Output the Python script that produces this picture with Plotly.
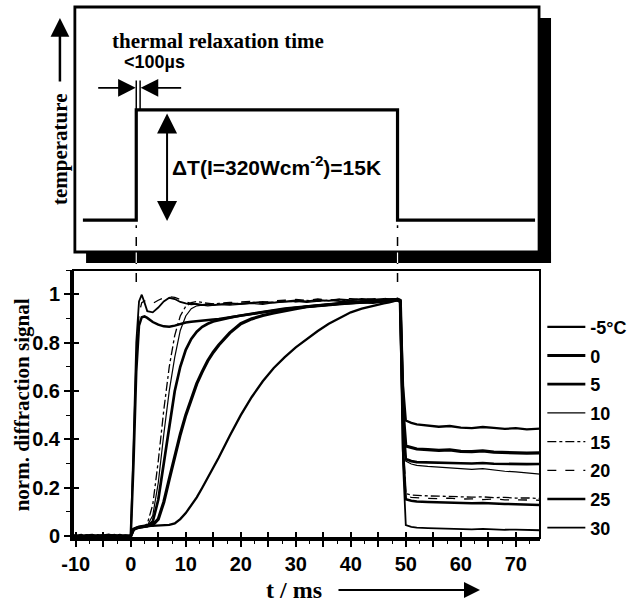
import plotly.graph_objects as go

# ---------------- data ----------------
t_ms = [-10.5, -9, -8, -7, -6, -5, -4, -3, -2, -1,
        0, 0.5, 1, 1.5, 2, 2.5, 3,
        4, 5, 6, 7, 8, 9, 10, 11, 12, 13, 14, 15, 16,
        18, 20, 22, 24, 26, 28, 30, 32, 34, 36, 38, 40, 42, 44, 46,
        47, 48, 48.5, 49, 49.5,
        50, 51, 52,
        54, 56, 58, 60, 62, 64, 66, 68, 70, 72,
        74.5]

sig_m5 = [0.002, -0.004, 0.003, -0.005, 0.001, 0.004, -0.003, 0.002, -0.002, 0.000,
          0.000, 0.025, 0.033, 0.037, 0.040, 0.040, 0.041,
          0.043, 0.044, 0.044, 0.046, 0.052, 0.070, 0.095, 0.125, 0.160, 0.200, 0.240, 0.285, 0.325,
          0.415, 0.500, 0.575, 0.640, 0.695, 0.740, 0.780, 0.815, 0.848, 0.878, 0.902, 0.925, 0.940, 0.952, 0.962,
          0.966, 0.972, 0.975, 0.968, 0.620,
          0.478, 0.468, 0.462,
          0.458, 0.452, 0.455, 0.448, 0.446, 0.451, 0.447, 0.443, 0.446, 0.441,
          0.444]

sig_0 = [-0.002, 0.003, -0.004, 0.002, -0.003, 0.001, 0.004, -0.002, 0.003, -0.001,
         0.000, 0.028, 0.034, 0.037, 0.039, 0.040, 0.041,
         0.046, 0.070, 0.140, 0.235, 0.330, 0.420, 0.500, 0.570, 0.630, 0.680, 0.725, 0.760, 0.790,
         0.840, 0.878, 0.898, 0.912, 0.922, 0.932, 0.940, 0.948, 0.952, 0.958, 0.962, 0.964, 0.968, 0.966, 0.972,
         0.974, 0.976, 0.978, 0.972, 0.520,
         0.372, 0.365, 0.360,
         0.357, 0.354, 0.356, 0.350, 0.349, 0.352, 0.347, 0.345, 0.346, 0.343,
         0.344]

sig_5 = [0.001, -0.003, 0.002, 0.004, -0.002, -0.004, 0.002, 0.003, -0.003, 0.002,
         0.000, 0.027, 0.033, 0.036, 0.038, 0.039, 0.041,
         0.060, 0.150, 0.300, 0.460, 0.600, 0.700, 0.770, 0.815, 0.845, 0.865, 0.878, 0.887, 0.893,
         0.903, 0.912, 0.920, 0.927, 0.933, 0.940, 0.945, 0.950, 0.955, 0.958, 0.962, 0.965, 0.967, 0.970, 0.972,
         0.975, 0.977, 0.980, 0.975, 0.480,
         0.318, 0.310, 0.306,
         0.304, 0.302, 0.303, 0.301, 0.300, 0.302, 0.299, 0.298, 0.300, 0.297,
         0.298]

sig_10 = [-0.003, 0.002, 0.004, -0.002, 0.003, -0.004, 0.001, -0.003, 0.002, 0.000,
          0.000, 0.028, 0.034, 0.038, 0.040, 0.041, 0.044,
          0.085, 0.220, 0.420, 0.600, 0.740, 0.850, 0.910, 0.940, 0.952, 0.955, 0.952, 0.955, 0.957,
          0.955, 0.960, 0.962, 0.958, 0.965, 0.968, 0.970, 0.966, 0.972, 0.975, 0.970, 0.968, 0.973, 0.976, 0.972,
          0.975, 0.978, 0.976, 0.970, 0.470,
          0.310, 0.298, 0.292,
          0.288, 0.285, 0.283, 0.280, 0.276, 0.279, 0.272, 0.268, 0.265, 0.262,
          0.256]

sig_15 = [0.003, -0.002, -0.004, 0.001, 0.004, -0.002, 0.003, -0.004, 0.001, 0.002,
          0.000, 0.030, 0.035, 0.038, 0.040, 0.042, 0.050,
          0.130, 0.310, 0.520, 0.700, 0.830, 0.910, 0.950, 0.965, 0.970, 0.966, 0.962, 0.960, 0.962,
          0.958, 0.963, 0.966, 0.962, 0.968, 0.972, 0.968, 0.974, 0.970, 0.976, 0.972, 0.975, 0.978, 0.974, 0.978,
          0.980, 0.977, 0.975, 0.970, 0.400,
          0.175, 0.170, 0.168,
          0.166, 0.165, 0.163, 0.164, 0.161, 0.162, 0.159, 0.160, 0.157, 0.158,
          0.155]

sig_20 = [-0.002, 0.004, -0.003, 0.002, -0.001, 0.003, -0.004, 0.001, 0.003, -0.002,
          0.000, 0.320, 0.720, 0.920, 0.965, 0.972, 0.968,
          0.962, 0.975, 0.985, 0.990, 0.987, 0.978, 0.968, 0.962, 0.960, 0.962, 0.958, 0.960, 0.963,
          0.966, 0.968, 0.970, 0.965, 0.972, 0.975, 0.978, 0.975, 0.980, 0.976, 0.978, 0.982, 0.978, 0.980, 0.983,
          0.980, 0.982, 0.978, 0.972, 0.380,
          0.165, 0.160, 0.158,
          0.156, 0.155, 0.157, 0.153, 0.154, 0.151, 0.153, 0.150, 0.151, 0.149,
          0.148]

sig_25 = [0.002, -0.003, 0.001, -0.004, 0.003, 0.002, -0.002, 0.004, -0.003, 0.001,
          0.000, 0.300, 0.680, 0.870, 0.905, 0.908, 0.902,
          0.885, 0.874, 0.867, 0.865, 0.870, 0.878, 0.883, 0.886, 0.889, 0.891, 0.893, 0.895, 0.897,
          0.903, 0.910, 0.918, 0.925, 0.932, 0.938, 0.944, 0.948, 0.953, 0.956, 0.960, 0.963, 0.965, 0.967, 0.970,
          0.972, 0.973, 0.975, 0.968, 0.360,
          0.152, 0.146, 0.143,
          0.141, 0.139, 0.140, 0.137, 0.136, 0.137, 0.134, 0.133, 0.132, 0.130,
          0.128]

sig_30 = [-0.004, 0.001, 0.003, -0.002, 0.002, -0.003, 0.004, -0.001, -0.003, 0.002,
          0.000, 0.380, 0.800, 0.970, 0.998, 0.965, 0.930,
          0.925, 0.945, 0.970, 0.985, 0.980, 0.968, 0.962, 0.958, 0.960, 0.956, 0.958, 0.955, 0.958,
          0.962, 0.960, 0.964, 0.968, 0.965, 0.970, 0.974, 0.970, 0.976, 0.972, 0.978, 0.975, 0.980, 0.977, 0.980,
          0.978, 0.980, 0.977, 0.970, 0.300,
          0.045, 0.038, 0.035,
          0.033, 0.031, 0.032, 0.029, 0.028, 0.030, 0.027, 0.026, 0.027, 0.025,
          0.024]

series_names = ["-5°C", "0", "5", "10", "15", "20", "25", "30"]
series_values = [sig_m5, sig_0, sig_5, sig_10, sig_15, sig_20, sig_25, sig_30]

# temperature pulse (top panel, schematic)
pulse_on = 1.0
pulse_off = 48.5
step_t = [-8.7, pulse_on, pulse_on, pulse_off, pulse_off, 73.5]
step_level = [0.13, 0.13, 0.58, 0.58, 0.13, 0.13]

x_tick_vals = [-10, -5, 0, 5, 10, 15, 20, 25, 30, 35, 40, 45, 50, 55, 60, 65, 70]
x_tick_text = ["-10", "", "0", "", "10", "", "20", "", "30", "", "40", "", "50", "", "60", "", "70"]
y_tick_vals = [0, 0.2, 0.4, 0.6, 0.8, 1.0]
y_tick_text = ["0", "0.2", "0.4", "0.6", "0.8", "1"]

# ---------------- styles ----------------
widths = [2.3, 3.2, 2.7, 1.2, 1.3, 1.3, 2.5, 1.8]
dashes = ["solid", "solid", "solid", "solid", "dashdot", "dash", "solid", "solid"]

SANS = "Liberation Sans"
SERIF = "Liberation Serif"
X_RANGE = [-10.5, 74.4]
Y_RANGE = [-0.008, 1.1]

fig = go.Figure()

for name, vals, w, d in zip(series_names, series_values, widths, dashes):
    fig.add_trace(go.Scatter(
        x=t_ms, y=vals, mode="lines", name=name, legendgroup=name,
        line=dict(color="black", width=w, dash=d), xaxis="x", yaxis="y"))

# dummy traces for overlay axes (inside ticks)
fig.add_trace(go.Scatter(x=[], y=[], xaxis="x3", yaxis="y", showlegend=False, hoverinfo="skip"))
fig.add_trace(go.Scatter(x=[], y=[], xaxis="x", yaxis="y3", showlegend=False, hoverinfo="skip"))

# top panel step
fig.add_trace(go.Scatter(x=step_t, y=step_level, mode="lines", showlegend=False,
                         line=dict(color="black", width=3.2), xaxis="x2", yaxis="y2"))

tickfont = dict(family=SANS, size=20, color="black", weight="bold")

fig.update_layout(
    width=633, height=606,
    margin=dict(l=73, r=93, t=7, b=68, autoexpand=False),
    paper_bgcolor="white", plot_bgcolor="white",
    showlegend=True,
    legend=dict(x=1.005, y=0.432, xanchor="left", yanchor="top",
                font=dict(family=SANS, size=18, color="black", weight="bold"),
                tracegroupgap=2.3, bgcolor="rgba(0,0,0,0)", borderwidth=0,
                itemwidth=38),
    xaxis=dict(domain=[0, 1], range=X_RANGE, anchor="y", automargin=False,
               tickmode="array", tickvals=x_tick_vals, ticktext=x_tick_text,
               ticks="outside", ticklen=6, tickwidth=1.5, tickcolor="black",
               minor=dict(dtick=2.5, ticks="outside", ticklen=3, tickwidth=1.2, tickcolor="black"),
               showline=True, linewidth=3, linecolor="black",
               showgrid=False, zeroline=False, tickfont=tickfont),
    xaxis3=dict(overlaying="x", range=X_RANGE, anchor="y", side="bottom",
                tickmode="array", tickvals=x_tick_vals,
                ticks="inside", ticklen=6, tickwidth=1.5, tickcolor="black",
                showticklabels=False, showline=False, showgrid=False, zeroline=False),
    yaxis=dict(domain=[0, 0.5047], range=Y_RANGE, anchor="x", automargin=False,
               tickmode="array", tickvals=y_tick_vals, ticktext=y_tick_text,
               ticks="outside", ticklen=6, tickwidth=1.5, tickcolor="black",
               minor=dict(dtick=0.1, ticks="outside", ticklen=4, tickwidth=1.2, tickcolor="black"),
               showline=True, linewidth=3, linecolor="black",
               showgrid=False, zeroline=False, tickfont=tickfont),
    yaxis3=dict(overlaying="y", range=Y_RANGE, anchor="x", side="left",
                tickmode="array", tickvals=y_tick_vals,
                ticks="inside", ticklen=6, tickwidth=1.5, tickcolor="black",
                showticklabels=False, showline=False, showgrid=False, zeroline=False),
    xaxis2=dict(domain=[0, 1], range=X_RANGE, anchor="y2", visible=False),
    yaxis2=dict(domain=[0.5386, 1], range=[0, 1], anchor="x2", visible=False),
)

shapes = []
# bottom panel frame (top/right edges)
shapes.append(dict(type="rect", xref="x domain", yref="y domain", x0=0, x1=1, y0=0, y1=1,
                   line=dict(color="black", width=2)))
# top panel shadow
shapes.append(dict(type="rect", xref="x2 domain", yref="y2 domain", x0=0.998, x1=1.0236,
                   y0=-0.045, y1=0.955, fillcolor="black", line=dict(width=0)))
shapes.append(dict(type="rect", xref="x2 domain", yref="y2 domain", x0=0.028, x1=1.0236,
                   y0=-0.045, y1=0.0, fillcolor="black", line=dict(width=0)))
# top panel frame
shapes.append(dict(type="rect", xref="x2 domain", yref="y2 domain", x0=0.004, x1=0.998,
                   y0=0, y1=1, fillcolor="white", line=dict(color="black", width=2.8), layer="below"))
# relaxation-time markers
for xv in [pulse_on, pulse_on + 0.7]:
    shapes.append(dict(type="line", xref="x2", yref="y2", x0=xv, x1=xv, y0=0.58, y1=0.70,
                       line=dict(color="black", width=1.5)))
# dashed connectors (white gap where they cross the shadow)
for xv in [pulse_on, pulse_off]:
    shapes.append(dict(type="line", xref="x", yref="paper", x0=xv, x1=xv, y0=0.482, y1=0.589,
                       line=dict(color="black", width=1.5, dash="dash")))
    shapes.append(dict(type="line", xref="x", yref="y2 domain", x0=xv, x1=xv, y0=-0.045, y1=-0.002,
                       line=dict(color="white", width=1.2)))
fig.update_layout(shapes=shapes)

ann = []
ann.append(dict(text="norm. diffraction signal", xref="paper", yref="paper", x=-0.109, y=0.25,
                textangle=-90, xanchor="center", yanchor="middle", showarrow=False,
                font=dict(family=SERIF, size=21, color="black", weight="bold")))
ann.append(dict(text="thermal relaxation time", xref="x2", yref="y2", x=15.8, y=0.862,
                showarrow=False, font=dict(family=SERIF, size=21, color="black", weight="bold")))
ann.append(dict(text="<100µs", xref="x2", yref="y2", x=4.4, y=0.775,
                showarrow=False, font=dict(family=SANS, size=18, color="black", weight="bold")))
ann.append(dict(text="ΔT(I=320Wcm<sup>-2</sup>)=15K", xref="x2", yref="y2", x=7.2, y=0.35,
                xanchor="left", showarrow=False,
                font=dict(family=SANS, size=21, color="black", weight="bold")))
ann.append(dict(text="temperature", xref="paper", yref="y2", x=-0.028, y=0.42, textangle=-90,
                xanchor="center", yanchor="middle",
                showarrow=False, font=dict(family=SERIF, size=21, color="black", weight="bold")))
# temperature arrow
ann.append(dict(text="", xref="paper", yref="y2", x=-0.028, y=0.955, ax=0, ay=65,
                showarrow=True, arrowhead=2, arrowsize=1.5, arrowwidth=2.5, arrowcolor="black"))
# relaxation arrows
ann.append(dict(text="", xref="x2", yref="y2", x=pulse_on - 0.1, y=0.67, ax=-39, ay=0,
                showarrow=True, arrowhead=2, arrowsize=2.2, arrowwidth=1.6, arrowcolor="black"))
ann.append(dict(text="", xref="x2", yref="y2", x=pulse_on + 0.8, y=0.67, ax=42, ay=0,
                showarrow=True, arrowhead=2, arrowsize=2.2, arrowwidth=1.6, arrowcolor="black"))
# delta T double arrow
ann.append(dict(text="", xref="x2", yref="y2", x=6.6, y=0.565, axref="x2", ayref="y2", ax=6.6, ay=0.12,
                showarrow=True, arrowhead=2, startarrowhead=2, arrowside="end+start",
                arrowsize=2.0, startarrowsize=2.0, arrowwidth=2, arrowcolor="black"))
# x title and arrow
ann.append(dict(text="t / ms", xref="paper", yref="paper", x=0.473, y=-0.098,
                xanchor="center", yanchor="middle",
                showarrow=False, font=dict(family=SERIF, size=24, color="black", weight="bold")))
ann.append(dict(text="", xref="paper", yref="paper", x=0.8715, y=-0.098, ax=-143, ay=0,
                showarrow=True, arrowhead=2, arrowsize=1.6, arrowwidth=2, arrowcolor="black"))
fig.update_layout(annotations=ann)

fig.write_html("out.html", config={"displayModeBar": False},
               post_script="document.body.style.margin='0';")
